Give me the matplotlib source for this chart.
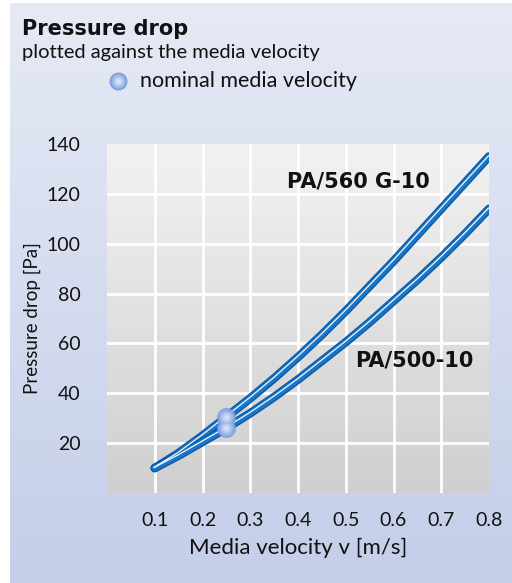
import numpy as np
import matplotlib
matplotlib.use("Agg")
import matplotlib.pyplot as plt
from matplotlib.colors import LinearSegmentedColormap
import matplotlib.transforms as mtransforms

plt.rcParams['font.family'] = ['Lato', 'DejaVu Sans']

# ---- data ----
velocity = [0.10, 0.15, 0.20, 0.25, 0.30, 0.35, 0.40, 0.45, 0.50, 0.55, 0.60, 0.65, 0.70, 0.75, 0.80]
pa560 = [10, 16, 23, 30.5, 38, 46, 54.5, 63.5, 73, 83, 93, 103.5, 114, 124.5, 135]
pa500 = [10, 15, 20.5, 26, 32, 38.5, 45.5, 53, 60.5, 68.5, 77, 85.5, 94.5, 104, 114]
nominal_v = [0.25, 0.25]
nominal_dp = [30.5, 26]
x_ticks = [0.1, 0.2, 0.3, 0.4, 0.5, 0.6, 0.7, 0.8]
x_ticklabels = ["0.1", "0.2", "0.3", "0.4", "0.5", "0.6", "0.7", "0.8"]
y_ticks = [20, 40, 60, 80, 100, 120, 140]
y_ticklabels = ["20", "40", "60", "80", "100", "120", "140"]
series_names = ["PA/560 G-10", "PA/500-10"]

W, H = 512, 583
fig = plt.figure(figsize=(W / 100, H / 100), dpi=100)
fig.patch.set_facecolor('white')

# outer panel gradient
bg = fig.add_axes([10 / W, 0, (W - 10) / W, (H - 3) / H])
bg_cmap = LinearSegmentedColormap.from_list('bg', ['#c4cee9', '#e6eaf5'])
grad = np.linspace(0, 1, 256).reshape(-1, 1)
bg.imshow(grad, aspect='auto', cmap=bg_cmap, origin='lower', extent=[0, 1, 0, 1])
bg.axis('off')

# plot area
L, R, T, B = 107, 489, 144, 493
ax = fig.add_axes([L / W, 1 - B / H, (R - L) / W, (B - T) / H])
ax_cmap = LinearSegmentedColormap.from_list('pa', ['#cfcfcf', '#f2f2f2'])
ax.imshow(grad, aspect='auto', cmap=ax_cmap, origin='lower',
          extent=[0, 0.8, 0, 140], zorder=-2)
ax.set_xlim(0, 0.8)
ax.set_ylim(0, 140)
for t in x_ticks:
    if t < 0.8:
        ax.axvline(t, color='white', lw=2, zorder=-1)
for t in y_ticks:
    if t < 140:
        ax.axhline(t, color='white', lw=2, zorder=-1)
for s in ax.spines.values():
    s.set_visible(False)
ax.set_xticks(x_ticks)
ax.set_xticklabels(x_ticklabels)
ax.set_yticks(y_ticks)
ax.set_yticklabels(y_ticklabels)
ax.tick_params(length=0, labelsize=14, colors='#111111')
ax.tick_params(axis='y', pad=19)
ax.tick_params(axis='x', pad=14)
ax.set_xlabel("Media velocity v [m/s]", fontsize=16, color='#111111', labelpad=6)
ax.set_ylabel("Pressure drop [Pa]", fontsize=13.5, color='#111111', labelpad=4)

hl = mtransforms.offset_copy(ax.transData, fig=fig, x=-0.4, y=0.5, units='points')
for ys in (pa560, pa500):
    ax.plot(velocity, ys, color='#0b5aa5', lw=6.2, solid_capstyle='round',
            solid_joinstyle='round', zorder=3)
    ax.plot(velocity, ys, color='#1a76c6', lw=4.2, solid_capstyle='round',
            solid_joinstyle='round', zorder=3)
    ax.plot(velocity, ys, color='white', lw=0.9, alpha=0.95, zorder=4, transform=hl)


def sphere(axis, xs, ys, r, transform=None, alpha=0.85):
    cols = ['#7e9edc', '#93b0e4', '#a6bfea', '#b9cdf0', '#cbdaf5', '#dae5f8']
    n = len(cols)
    kw = {}
    if transform is not None:
        kw['transform'] = transform
    for i, c in enumerate(cols):
        rad = r * (1 - i / n)
        axis.scatter(xs, ys, s=(2 * rad * 72 / 100) ** 2, color=c, lw=0,
                     alpha=alpha, zorder=5 + i * 0.01, clip_on=False, **kw)


sphere(ax, nominal_v, nominal_dp, 9.5)

bold_font = ['DejaVu Sans']
ax.text(0.377, 125, series_names[0], fontsize=15, fontweight='bold',
        family=bold_font, va='center', ha='left', color='#111111')
ax.text(0.52, 53, series_names[1], fontsize=15, fontweight='bold',
        family=bold_font, va='center', ha='left', color='#111111')

# header texts
fig.text(22 / W, 1 - 35 / H, "Pressure drop", fontsize=15, fontweight='bold',
         family=bold_font, ha='left', va='baseline', color='#111111')
fig.text(22 / W, 1 - 58 / H, "plotted against the media velocity", fontsize=14.5,
         ha='left', va='baseline', color='#111111')
fig.text(140 / W, 1 - 87 / H, "nominal media velocity", fontsize=15.5,
         ha='left', va='baseline', color='#111111')
sphere(bg, [118 / W], [1 - 81 / H], 9, transform=fig.transFigure, alpha=1)

fig.savefig('out.png', dpi=100)
